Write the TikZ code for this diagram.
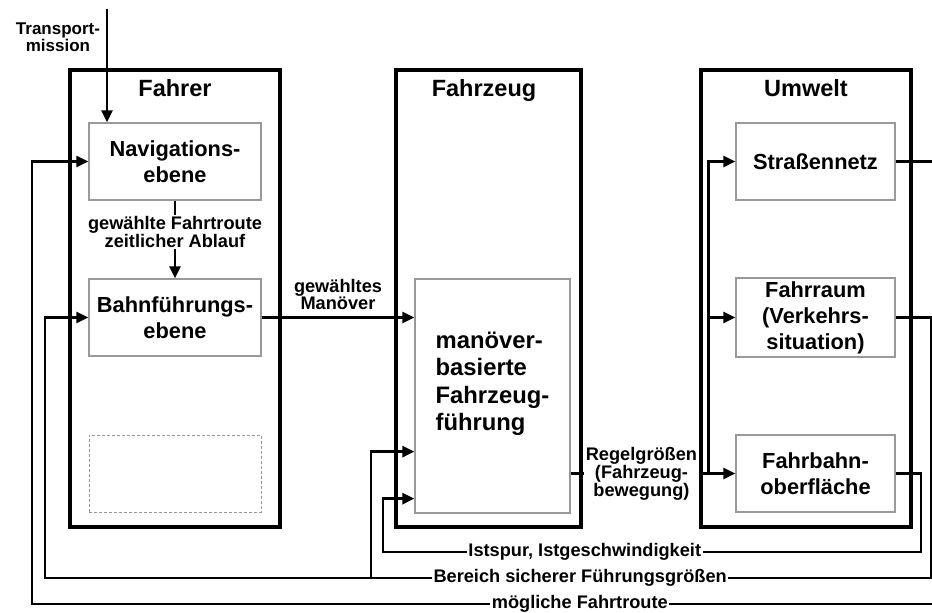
\documentclass[tikz,border=0pt]{standalone}
\usepackage{fontspec}
\setmainfont{Liberation Sans}
\usepackage{tikz}
\usetikzlibrary{arrows.meta, positioning}

\newcommand{\titlefont}{\fontsize{23.5}{28}\selectfont\bfseries}
\newcommand{\boxfont}{\fontsize{21.8}{26}\selectfont\bfseries}
\newcommand{\manfont}{\fontsize{23.8}{27.5}\selectfont\bfseries}
\newcommand{\lblfont}{\fontsize{18.2}{17}\selectfont\bfseries}
\newcommand{\smallfont}{\fontsize{17}{15}\selectfont\bfseries}

\tikzstyle{outer} = [rectangle, draw=black, line width=3.6pt, minimum width=210pt, minimum height=457pt]
\tikzstyle{level} = [rectangle, draw=black!40, line width=1.3pt, minimum width=172pt, minimum height=77pt, text centered, align=center, font=\boxfont]
\tikzstyle{title} = [anchor=base, font=\titlefont]
\tikzstyle{arrow} = [line width=2.8pt, ->, >={Triangle[length=12pt,width=11pt]}]
\tikzstyle{lbl} = [fill=white, inner sep=1.5pt, align=center, font=\lblfont]

\begin{document}
\begin{tikzpicture}[x=1pt, y=1pt, node distance=156pt]
	\useasboundingbox[fill=white] (0,0) rectangle (932,613);

	% Outer blocks
	\node (fahrer) [outer] at (175,314.5) {};
	\node (fahrzeug) [outer, minimum width=185pt] at (488.5,314.5) {};
	\node (umwelt) [outer] at (806,314.5) {};
	\node (fahrertitle) [title] at (175,516) {Fahrer};
	\node (fahrzeugtitle) [title] at (484,516) {Fahrzeug};
	\node (umwelttitle) [title] at (806,516) {Umwelt};

	% Nodes for Fahrer
	\node (nav) [level] at (175,451.5) {Navigations-\\ebene};
	\node (bahn) [level, below of=nav] {Bahnführungs-\\ebene};
	\node (spare) [level, below of=bahn, dashed, dash pattern=on 3pt off 2pt, line width=0.8pt] {};

	% Nodes for Fahrzeug
	\node (manbox) [level, minimum width=155pt, minimum height=234pt] at (492.5,217) {};
	\node (mantext) [align=left, font=\manfont] at ([yshift=12pt]manbox.center) {manöver-\\basierte\\Fahrzeug-\\führung};

	% Nodes for Umwelt
	\node (stras) [level, minimum width=159pt] at (815.5,451.5) {Straßennetz};
	\node (fraum) [level, minimum width=159pt, below of=stras] {Fahrraum\\(Verkehrs-\\situation)};
	\node (fbahn) [level, minimum width=159pt, below of=fraum] {Fahrbahn-\\oberfläche};

	% Input
	\node (transportlbl) [align=center, font=\smallfont] at (58,576) {Transport-\\mission};
	\coordinate (transport) at (107,604);
	\draw [arrow] (transport) -- (transport |- nav.north);

	% Arrows forward
	\draw [arrow] (nav) -- node [lbl, pos=0.4] {gewählte Fahrtroute\\zeitlicher Ablauf} (bahn);
	\draw [arrow] (bahn) -- node [above=3pt, align=center, font=\lblfont] {gewähltes\\Manöver} (manbox.west |- bahn);
	\coordinate (bus) at ([xshift=-27pt]fbahn.west);
	\draw [arrow] (manbox.east |- fbahn) -- node [lbl, pos=0.43] {Regelgrößen\\(Fahrzeug-\\bewegung)} (fbahn.west);
	\draw [arrow] (bus) |- (fraum.west);
	\draw [arrow] (bus) |- (stras.west);

	% Arrows back
	\coordinate (istR) at (921,61);
	\coordinate (istL) at (383,61);
	\draw [arrow] (fbahn.east) -| (istR) -- node [lbl, pos=0.625] {Istspur, Istgeschwindigkeit} (istL) |- ([yshift=15pt]manbox.south west);

	\coordinate (berR) at (931,35);
	\coordinate (berL) at (45,35);
	\coordinate (berB) at (371,35);
	\draw [arrow] (fraum.east) -| (berR) -- node [lbl, pos=0.396] {Bereich sicherer Führungsgrößen} (berL) |- (bahn.west);
	\draw [arrow] (berB) |- ([yshift=62pt]manbox.south west);

	\coordinate (moeR) at (945,9);
	\coordinate (moeL) at (32,9);
	\draw [arrow] (stras.east) -| (moeR) -- node [lbl, pos=0.4] {mögliche Fahrtroute} (moeL) |- (nav.west);

\end{tikzpicture}
\end{document}
